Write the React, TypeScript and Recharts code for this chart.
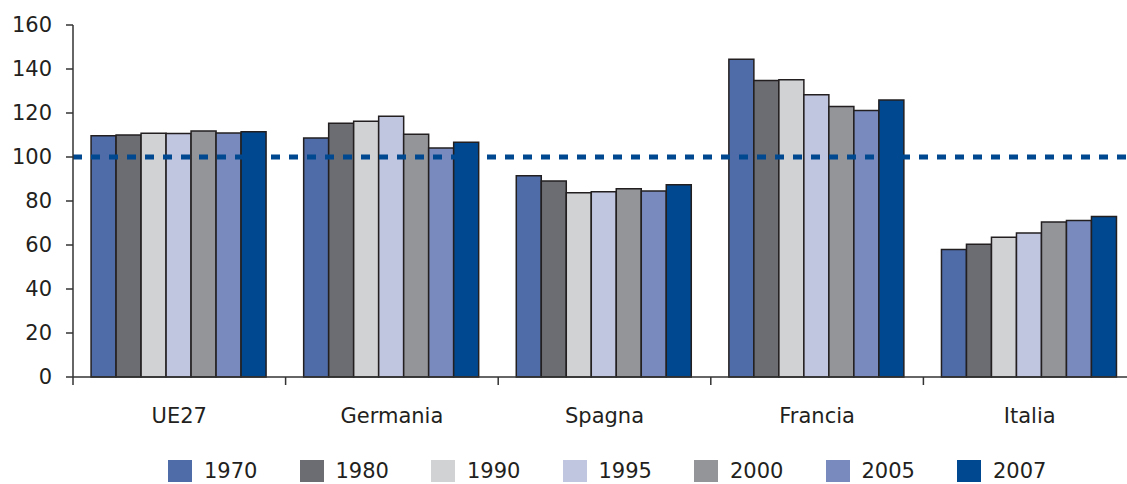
import React from 'react';
import { BarChart, Bar, XAxis, YAxis, ReferenceLine, Legend } from 'recharts';

const categories = ['UE27', 'Germania', 'Spagna', 'Francia', 'Italia'];
const years = ['1970', '1980', '1990', '1995', '2000', '2005', '2007'];
const colors = ['#4f6ca8', '#6b6d72', '#d1d2d4', '#c0c5e0', '#939598', '#798bbe', '#004990'];

const v1970 = [109.7, 108.6, 91.5, 144.4, 58.0];
const v1980 = [110.0, 115.3, 89.1, 134.8, 60.3];
const v1990 = [110.8, 116.2, 83.8, 135.1, 63.5];
const v1995 = [110.7, 118.5, 84.2, 128.3, 65.5];
const v2000 = [111.8, 110.3, 85.6, 122.9, 70.5];
const v2005 = [110.9, 104.1, 84.5, 121.1, 71.1];
const v2007 = [111.5, 106.7, 87.4, 125.9, 73.0];

const yTicks = [0, 20, 40, 60, 80, 100, 120, 140, 160];

const series = [v1970, v1980, v1990, v1995, v2000, v2005, v2007];
const data = categories.map((c, i) => {
  const row: Record<string, string | number> = { name: c };
  years.forEach((y, j) => {
    row[y] = series[j][i];
  });
  return row;
});

const FONT = '"DejaVu Sans", sans-serif';
const TEXT = '#231f20';
const CHART_W = 1140;
const MARGIN = { top: 25, right: 4, left: 0, bottom: 1 };
const Y_W = 73;
const BAND = (CHART_W - MARGIN.left - MARGIN.right - Y_W) / categories.length;
const TICK_SIZE = 8;
const TICK_MARGIN = 2;

const CategoryTick = (props: any) => {
  const { x, y, payload } = props;
  const axisY = y - TICK_SIZE - TICK_MARGIN;
  const half = payload && payload.offset ? payload.offset : BAND / 2;
  return (
    <g>
      <line x1={x - half} x2={x - half} y1={axisY} y2={axisY + TICK_SIZE} stroke="#333" strokeWidth={1.5} />
      <text x={x} y={axisY + 46} textAnchor="middle" fill={TEXT} fontSize={21} fontFamily={FONT}>
        {payload.value}
      </text>
    </g>
  );
};

const LegendContent = () => (
  <div style={{ display: 'flex', paddingLeft: 168, height: 24, alignItems: 'center' }}>
    {years.map((y, i) => (
      <div key={y} style={{ display: 'flex', alignItems: 'center', width: 131.5 }}>
        <span style={{ display: 'inline-block', width: 24, height: 22, background: colors[i] }} />
        <span style={{ marginLeft: 12, fontSize: 21, fontFamily: FONT, color: TEXT, lineHeight: '22px' }}>{y}</span>
      </div>
    ))}
  </div>
);

export default function App() {
  return (
    <div style={{ position: 'absolute', top: 0, left: 0, width: 1127, height: 484, overflow: 'hidden', background: '#fff' }}>
      <BarChart width={CHART_W} height={484} data={data} margin={MARGIN} barCategoryGap="8.5%" barGap={0}>
        <ReferenceLine y={100} stroke="#004990" strokeWidth={5} strokeDasharray="9 9" />
        <XAxis
          dataKey="name"
          axisLine={{ stroke: '#333', strokeWidth: 1.5 }}
          tickLine={false}
          tickSize={TICK_SIZE}
          tickMargin={TICK_MARGIN}
          tick={<CategoryTick />}
          height={82}
          interval={0}
        />
        <YAxis
          domain={[0, 160]}
          ticks={yTicks}
          width={Y_W}
          axisLine={{ stroke: '#333', strokeWidth: 1.5 }}
          tickLine={{ stroke: '#333', strokeWidth: 1.5 }}
          tickSize={7}
          tickMargin={14}
          tick={{ fill: TEXT, fontSize: 21, fontFamily: FONT }}
        />
        <Legend
          verticalAlign="bottom"
          content={<LegendContent />}
          wrapperStyle={{ left: 0, width: 1127, height: 24 }}
        />
        {years.map((y, i) => (
          <Bar
            key={y}
            dataKey={y}
            fill={colors[i]}
            stroke="#231f20"
            strokeWidth={1.5}
            isAnimationActive={false}
          />
        ))}
      </BarChart>
    </div>
  );
}
